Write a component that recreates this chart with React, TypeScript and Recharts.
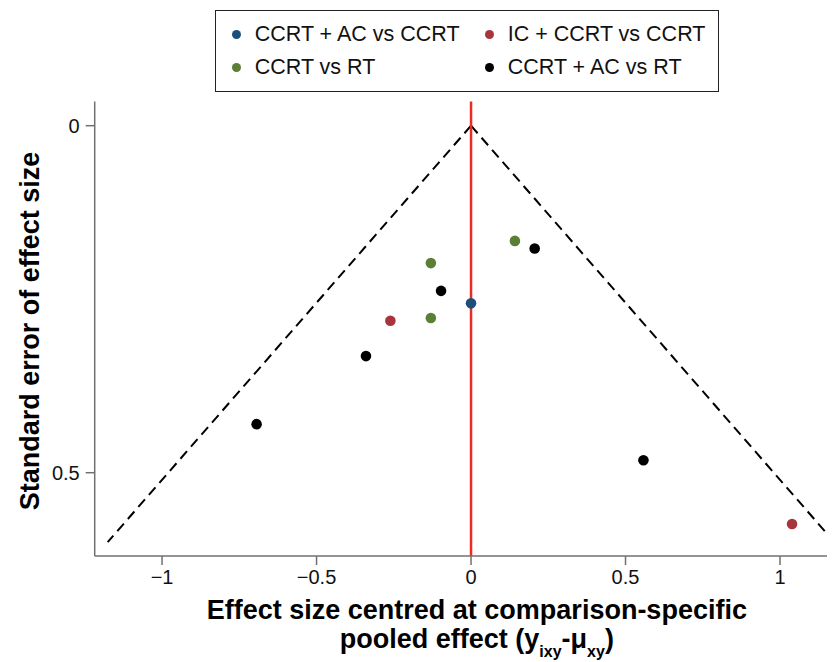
import React from "react";
import { ComposedChart, Scatter, XAxis, YAxis, ReferenceLine, Label } from "recharts";

const seriesNames = ["CCRT + AC vs CCRT", "IC + CCRT vs CCRT", "CCRT vs RT", "CCRT + AC vs RT"];
const seriesColors = ["#1c4f7c", "#a8353d", "#5b7f34", "#000000"];

const ccrtAcVsCcrt = [{ x: 0, se: 0.256 }];
const icCcrtVsCcrt = [
  { x: -0.261, se: 0.281 },
  { x: 1.039, se: 0.574 },
];
const ccrtVsRt = [
  { x: 0.142, se: 0.166 },
  { x: -0.13, se: 0.198 },
  { x: -0.13, se: 0.277 },
];
const ccrtAcVsRt = [
  { x: 0.206, se: 0.177 },
  { x: -0.097, se: 0.238 },
  { x: -0.34, se: 0.332 },
  { x: -0.694, se: 0.43 },
  { x: 0.558, se: 0.482 },
];
const seriesData = [ccrtAcVsCcrt, icCcrtVsCcrt, ccrtVsRt, ccrtAcVsRt];

const xTicks = [-1, -0.5, 0, 0.5, 1];
const xTickLabels = ["\u22121", "\u22120.5", "0", "0.5", "1"];
const yTicks = [0, 0.5];
const yTickLabels = ["0", "0.5"];
const xDomain = [-1.218, 1.178];
const yDomain = [-0.035, 0.62];
const funnelMaxSE = 0.6;
const zCrit = 1.96;

const FONT = "'Liberation Sans', Arial, Helvetica, sans-serif";
const AXIS_COLOR = "#707070";

const Dot = (color: string) => (props: any) => {
  if (props.cx == null || props.cy == null) return null;
  return <circle cx={props.cx} cy={props.cy} r={5.3} fill={color} />;
};

const XTitle = (props: any) => {
  const vb = props.viewBox || { x: 0, y: 0, width: 0, height: 0 };
  const cx = vb.x + vb.width / 2 + 12;
  return (
    <g>
      <text x={cx} y={611} textAnchor="middle" fontFamily={FONT} fontWeight="bold" fontSize={27} fill="#000">
        Effect size centred at comparison-specific
      </text>
      <text x={cx} y={640} textAnchor="middle" fontFamily={FONT} fontWeight="bold" fontSize={27} fill="#000">
        <tspan>pooled effect (y</tspan>
        <tspan fontSize={16} dy={9}>ixy</tspan>
        <tspan dy={-9}>-μ</tspan>
        <tspan fontSize={16} dy={9}>xy</tspan>
        <tspan dy={-9}>)</tspan>
      </text>
    </g>
  );
};

const YTitle = () => (
  <text
    x={0}
    y={0}
    transform="translate(31,323) rotate(-90)"
    textAnchor="middle"
    fontFamily={FONT}
    fontWeight="bold"
    fontSize={27}
    fill="#000"
  >
    Standard error of effect size
  </text>
);

const LegendBox = () => {
  const pos = [
    { left: 20, top: 23 },
    { left: 273, top: 23 },
    { left: 20, top: 56 },
    { left: 273, top: 56 },
  ];
  const order = [0, 1, 2, 3];
  return (
    <div
      style={{
        position: "absolute",
        left: 206.7,
        top: 2,
        width: 504,
        height: 82,
        border: "1.5px solid #222",
        boxSizing: "border-box",
        background: "#fff",
        fontFamily: FONT,
        fontSize: 21.5,
        color: "#111",
      }}
    >
      {order.map((i, k) => (
        <div key={i} style={{ position: "absolute", left: pos[k].left - 4, top: pos[k].top - 13, height: 26, display: "flex", alignItems: "center", whiteSpace: "nowrap" }}>
          <span style={{ display: "inline-block", width: 9, height: 9, borderRadius: "50%", background: seriesColors[i] }} />
          <span style={{ marginLeft: 14 }}>{seriesNames[i]}</span>
        </div>
      ))}
    </div>
  );
};

export default function App() {
  return (
    <div style={{ position: "relative", width: 827, height: 654 }}>
      <ComposedChart width={827} height={654} margin={{ top: 93.4, right: 0, bottom: 76, left: 0 }}>
        <XAxis
          type="number"
          dataKey="x"
          domain={xDomain}
          allowDataOverflow
          ticks={xTicks}
          tickFormatter={(v: number) => xTickLabels[xTicks.indexOf(v)] ?? String(v)}
          tick={{ fontSize: 20, fontFamily: FONT, fill: "#111" }}
          tickSize={9}
          tickMargin={5}
          height={30}
          stroke={AXIS_COLOR}
          strokeWidth={1.5}
          label={<Label content={<XTitle />} />}
        />
        <YAxis
          type="number"
          dataKey="se"
          reversed
          domain={yDomain}
          allowDataOverflow
          ticks={yTicks}
          tickFormatter={(v: number) => yTickLabels[yTicks.indexOf(v)] ?? String(v)}
          tick={{ fontSize: 20, fontFamily: FONT, fill: "#111" }}
          tickSize={9}
          tickMargin={6}
          width={86.7}
          stroke={AXIS_COLOR}
          strokeWidth={1.5}
          label={<Label content={<YTitle />} />}
        />
        <ReferenceLine
          segment={[{ x: 0, y: 0 }, { x: -zCrit * funnelMaxSE, y: funnelMaxSE }]}
          stroke="#000"
          strokeWidth={2}
          strokeDasharray="10 6"
          ifOverflow="visible"
        />
        <ReferenceLine
          segment={[{ x: 0, y: 0 }, { x: zCrit * funnelMaxSE, y: funnelMaxSE }]}
          stroke="#000"
          strokeWidth={2}
          strokeDasharray="10 6"
          ifOverflow="visible"
        />
        <ReferenceLine x={0} stroke="#ee2a24" strokeWidth={2.5} />
        {seriesData.map((d, i) => (
          <Scatter
            key={seriesNames[i]}
            name={seriesNames[i]}
            data={d}
            fill={seriesColors[i]}
            shape={Dot(seriesColors[i])}
            isAnimationActive={false}
          />
        ))}
      </ComposedChart>
      <LegendBox />
    </div>
  );
}
